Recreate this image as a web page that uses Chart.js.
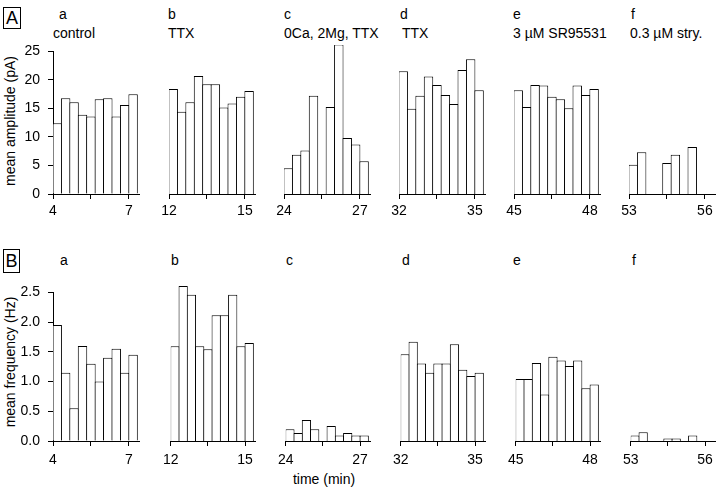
<!DOCTYPE html>
<html lang="en">
<head>
<meta charset="UTF-8">
<title>Mean amplitude and frequency</title>
<script src="https://cdn.jsdelivr.net/npm/chart.js@4"></script>
<style>
    body {
        margin: 0;
        background: #fff;
        color: #000;
        font-family: 'Liberation Sans', Arial, sans-serif;
    }

    #fig {
        position: relative;
        width: 720px;
        height: 490px;
        overflow: hidden;
    }

    canvas {
        position: absolute;
    }

    .t {
        position: absolute;
        font-size: 14px;
        line-height: 16px;
        white-space: nowrap;
    }

    .box {
        position: absolute;
        box-sizing: border-box;
        border: 1px solid #000;
        font-size: 18px;
        text-align: center;
    }

    .ylab {
        position: absolute;
        width: 200px;
        font-size: 14px;
        line-height: 16px;
        text-align: center;
        white-space: nowrap;
        transform: rotate(-90deg);
    }
</style>
</head>
<body>
<div id="fig">
    <!-- row A -->
    <div class="box" style="left:3px;top:7px;width:18px;height:22px;line-height:20px">A</div>
    <div class="t" style="left:59px;top:6px">a</div>
    <div class="t" style="left:168px;top:6px">b</div>
    <div class="t" style="left:284px;top:6px">c</div>
    <div class="t" style="left:400px;top:6px">d</div>
    <div class="t" style="left:513px;top:6px">e</div>
    <div class="t" style="left:631px;top:6px">f</div>
    <div class="t" style="left:53px;top:25px">control</div>
    <div class="t" style="left:168px;top:25px">TTX</div>
    <div class="t" style="left:284px;top:25px">0Ca, 2Mg, TTX</div>
    <div class="t" style="left:402px;top:25px">TTX</div>
    <div class="t" style="left:513px;top:25px">3 µM SR95531</div>
    <div class="t" style="left:630px;top:25px">0.3 µM stry.</div>
    <div class="ylab" style="left:-90px;top:113px">mean amplitude (pA)</div>

    <!-- row B -->
    <div class="box" style="left:3px;top:249px;width:17px;height:24px;line-height:22px">B</div>
    <div class="t" style="left:60px;top:252px">a</div>
    <div class="t" style="left:171px;top:252px">b</div>
    <div class="t" style="left:286px;top:252px">c</div>
    <div class="t" style="left:402px;top:252px">d</div>
    <div class="t" style="left:513px;top:252px">e</div>
    <div class="t" style="left:632px;top:252px">f</div>
    <div class="ylab" style="left:-90px;top:354px">mean frequency (Hz)</div>
    <div class="t" style="left:274px;top:471px;width:100px;text-align:center">time (min)</div>
</div>

<script>
    // start time of each recording window (min); bins are 20 s wide
    const starts = [4, 12, 24, 32, 45, 53];
    const binMin = 1 / 3;

    // mean amplitude (pA), one value per bin, null = no bar
    const ampA = [12.4, 16.8, 16.1, 13.9, 13.6, 16.6, 16.8, 13.6, 15.6, 17.5];
    const ampB = [17.6, 13.8, 15.4, 19.8, 18.4, 18.4, 14.5, 15.2, 16.3, 17.3];
    const ampC = [4.3, 6.6, 7.3, 16.5, null, 14.6, 25.1, 9.4, 8.3, 5.5];
    const ampD = [20.6, 14.3, 16.5, 19.7, 18.3, 16.6, 15.1, 20.8, 22.6, 17.4];
    const ampE = [17.4, 14.6, 18.3, 18.2, 16.3, 15.9, 14.4, 18.2, 16.6, 17.6];
    const ampF = [4.9, 7.0, null, null, 5.2, 6.6, null, 7.9];

    // mean frequency (Hz)
    const freqA = [1.95, 1.15, 0.55, 1.6, 1.3, 1.0, 1.4, 1.55, 1.15, 1.45];
    const freqB = [1.53, 2.5, 2.36, 1.53, 1.48, 2.03, 2.03, 2.36, 1.53, 1.58];
    const freqC = [0.19, 0.13, 0.34, 0.19, null, 0.24, 0.09, 0.13, 0.09, 0.09];
    const freqD = [1.40, 1.60, 1.25, 1.10, 1.25, 1.25, 1.56, 1.15, 1.05, 1.10];
    const freqE = [1.0, 1.0, 1.26, 0.75, 1.36, 1.30, 1.21, 1.30, 0.85, 0.91];
    const freqF = [0.09, 0.14, null, null, 0.04, 0.04, null, 0.09];

    Chart.defaults.font.family = "'Liberation Sans', Arial, sans-serif";
    Chart.defaults.font.size = 14;
    Chart.defaults.color = '#000';

    // layout of the panel grid
    const areaLeft = [53, 169, 284, 399, 514, 629];
    const areaW = 86, padT = 10, xH = 40, padS = 12, yW = 53;

    const rows = [
        { top: 45, h: 149, max: 25, step: 5, dec: 0, xPad: 4, series: [ampA, ampB, ampC, ampD, ampE, ampF] },
        { top: 286, h: 155, max: 2.5, step: 0.5, dec: 1, xPad: 6, series: [freqA, freqB, freqC, freqD, freqE, freqF] }
    ];

    const fig = document.getElementById('fig');

    rows.forEach(r => {
        r.series.forEach((vals, k) => {
            const first = k === 0;
            const st = starts[k];
            const cv = document.createElement('canvas');
            cv.width = (first ? yW : padS) + areaW + padS;
            cv.height = padT + r.h + xH;
            cv.style.left = (areaLeft[k] - (first ? yW : padS)) + 'px';
            cv.style.top = (r.top - padT) + 'px';
            fig.appendChild(cv);

            const pts = [];
            vals.forEach((v, i) => {
                if (v !== null) pts.push({ x: st + (i + 0.5) * binMin, y: v });
            });

            new Chart(cv, {
                type: 'bar',
                data: {
                    datasets: [{
                        data: pts,
                        backgroundColor: '#fff',
                        borderColor: '#000',
                        borderWidth: 1,
                        barPercentage: 1.12,
                        categoryPercentage: 1
                    }]
                },
                options: {
                    responsive: false,
                    animation: false,
                    layout: { padding: { left: first ? 0 : padS, right: padS, top: padT, bottom: 0 } },
                    plugins: { legend: { display: false }, tooltip: { enabled: false } },
                    scales: {
                        x: {
                            type: 'linear',
                            offset: false,
                            min: st,
                            max: st + 3.4,
                            afterFit: s => { s.height = xH; },
                            afterBuildTicks: s => { s.ticks = [st, st + 1.5, st + 3].map(v => ({ value: v })); },
                            grid: { drawOnChartArea: false, drawTicks: true, tickLength: 5, color: '#000', offset: false },
                            border: { display: true, color: '#000', width: 1 },
                            ticks: {
                                autoSkip: false,
                                maxRotation: 0,
                                padding: r.xPad,
                                callback: v => (v === st + 1.5 ? '' : v)
                            }
                        },
                        y: {
                            display: first,
                            min: 0,
                            max: r.max,
                            afterFit: s => { s.width = first ? yW : 0; },
                            grid: { drawOnChartArea: false, drawTicks: true, tickLength: 5, color: '#000' },
                            border: { display: true, color: '#000', width: 1 },
                            ticks: {
                                stepSize: r.step,
                                padding: 8,
                                callback: v => v.toFixed(r.dec)
                            }
                        }
                    }
                }
            });
        });
    });
</script>
</body>
</html>
